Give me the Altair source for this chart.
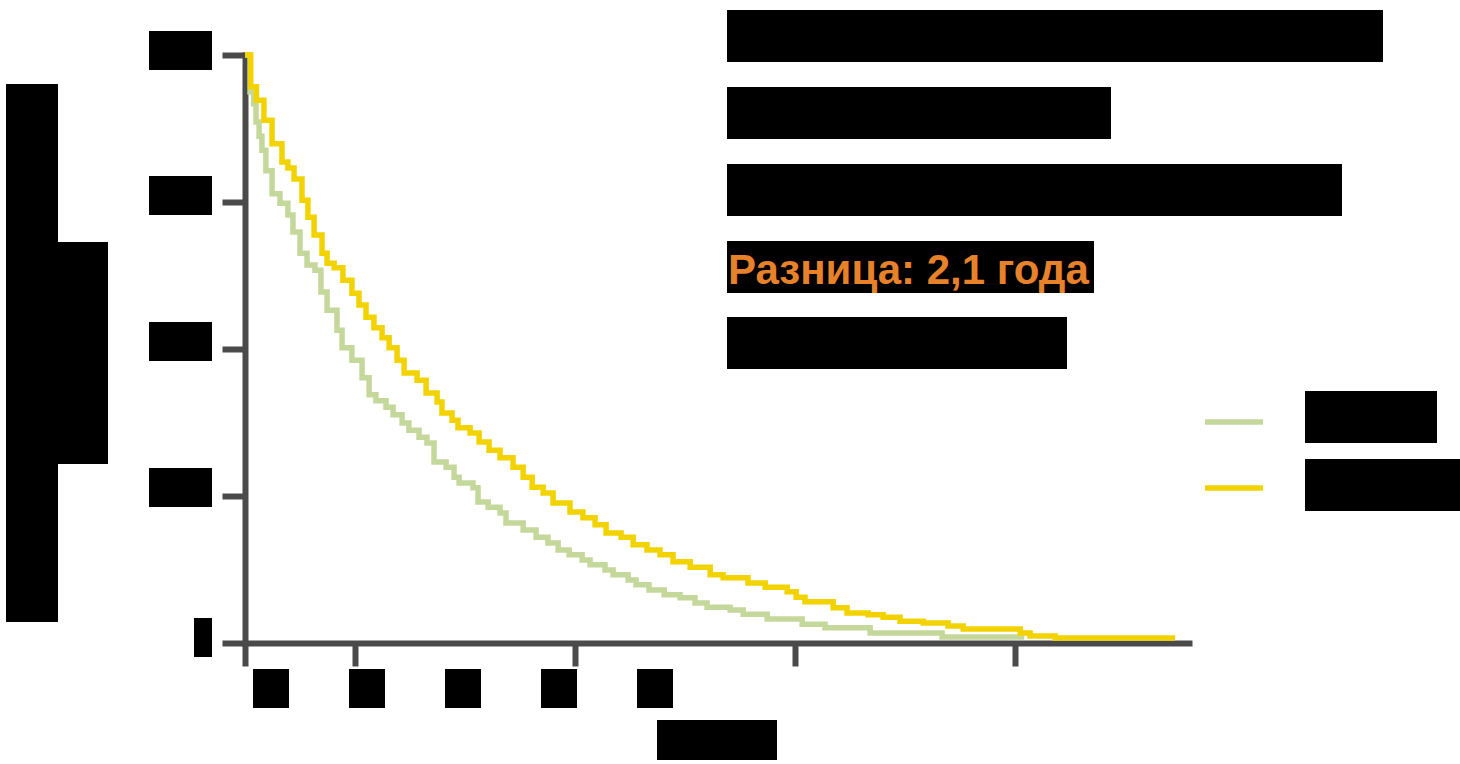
import altair as alt
import pandas as pd

# ---- data (time units, % surviving) ----
green_t = [0, 0.23, 0.39, 0.5, 0.64, 0.77, 0.95, 1.23, 1.59, 1.95, 2.18, 2.5, 2.82, 3.18, 3.45,
           3.73, 4.18, 4.41, 4.86, 5.32, 5.64, 5.95, 6.41, 6.73, 7.14, 7.45, 7.91, 8.27, 8.59, 9.14,
           9.5, 9.73, 10.36, 10.59, 11.05, 11.59, 11.86, 12.64, 13.23, 13.77, 14.23, 14.73, 15.32, 15.68,
           16.36, 16.73, 17.41, 17.77, 18.36, 19.05, 19.77, 20.45, 21.0, 22.05, 22.64, 23.73, 25.32,
           26.36, 28.41, 31.68, 35.41]
green_s = [100, 93.7, 91.7, 88.6, 86.2, 83.8, 80.3, 76.4, 74.8, 72.8, 69.9, 66.3, 64.3, 63.4, 59.7,
           56.6, 53.2, 50.2, 48.1, 45.1, 42.2, 41.2, 40.1, 38.8, 37.4, 36.2, 35.0, 34.0, 30.8, 29.9,
           28.2, 27.2, 26.4, 24.0, 23.1, 22.1, 20.4, 19.2, 18.0, 17.0, 15.8, 15.0, 14.1, 13.3,
           12.4, 11.6, 10.7, 9.9, 9.0, 8.2, 7.7, 6.8, 6.1, 5.6, 4.9, 4.1, 3.2,
           2.6, 1.7, 1.0, 1.0]

yellow_t = [0, 0.26, 0.52, 0.86, 1.23, 1.68, 1.95, 2.23, 2.59, 2.86, 3.14, 3.5, 3.73, 4.05, 4.45,
            4.86, 5.18, 5.5, 5.86, 6.23, 6.55, 6.91, 7.23, 7.82, 8.23, 8.73, 8.95, 9.41, 9.68, 10.23,
            10.64, 11.09, 11.59, 12.18, 12.64, 13.05, 13.55, 14.0, 14.77, 15.36, 15.91, 16.41, 17.09,
            17.64, 18.27, 18.86, 19.45, 20.23, 21.14, 21.73, 22.86, 23.64, 24.64, 25.05, 25.45, 26.73,
            27.36, 28.32, 29.0, 29.77, 30.82, 31.95, 32.64, 35.23, 35.68, 36.82, 42.27]
yellow_s = [100, 94.6, 92.3, 88.9, 84.9, 81.8, 80.8, 78.9, 75.3, 72.4, 69.4, 66.3, 64.6, 63.8, 61.7,
            59.5, 57.5, 55.4, 53.6, 51.9, 50.2, 48.1, 45.9, 44.7, 42.5, 41.0, 39.1, 37.9, 36.6, 35.7,
            34.2, 32.8, 31.5, 29.9, 28.2, 26.5, 25.5, 23.8, 22.3, 21.3, 20.1, 18.7, 18.0,
            16.7, 15.8, 15.0, 13.8, 12.9, 11.6, 11.1, 10.2, 9.5, 8.7, 7.8, 7.0, 6.0,
            5.1, 4.8, 4.4, 3.7, 3.4, 2.9, 2.4, 1.7, 1.2, 0.85, 0.85]

x_ticks = [0, 5, 15, 25, 35]
y_ticks = [0, 25, 50, 75, 100]
x_domain = [0, 42.9]
annotation = "Разница: 2,1 года"

# ---- styles ----
AX = "#4a4a4a"
GREEN = "#c5d89b"
YELLOW = "#f2d300"
ORANGE = "#e8822a"
W, H = 944, 588

green_df = pd.DataFrame({"t": green_t, "s": green_s})
yellow_df = pd.DataFrame({"t": yellow_t, "s": yellow_s})
one = pd.DataFrame({"k": [0]})

x_enc = alt.X("t:Q", scale=alt.Scale(domain=x_domain, nice=False, zero=False),
              axis=alt.Axis(values=x_ticks, labels=False, title=None, grid=False,
                            domainColor=AX, domainWidth=6, domainCap="square",
                            tickColor=AX, tickWidth=6, tickSize=23))
y_enc = alt.Y("s:Q", scale=alt.Scale(domain=[0, 100], nice=False),
              axis=alt.Axis(values=y_ticks, labels=False, title=None, grid=False,
                            domainColor=AX, domainWidth=6, domainCap="square",
                            tickColor=AX, tickWidth=6, tickSize=23))

green_line = alt.Chart(green_df).mark_line(interpolate="step-after", strokeWidth=5.5,
                                           color=GREEN).encode(x=x_enc, y=y_enc)
yellow_line = alt.Chart(yellow_df).mark_line(interpolate="step-after", strokeWidth=5.5,
                                             color=YELLOW).encode(x="t:Q", y="s:Q")

# redaction boxes (pixel layout relative to plot origin), black as in the reference
redactions = [
    (482, 1138, -45, 7), (482, 866, 32, 84), (482, 1097, 109, 161),
    (482, 849, 186, 238), (482, 822, 262, 314),
    (1060, 1192, 336, 388), (1060, 1215, 404, 456),
    (-239, -187, 29, 567), (-187, -137, 187, 409),
    (-96, -33, -24, 15), (-96, -33, 121, 160), (-96, -33, 267, 306), (-96, -33, 413, 452),
    (-51, -33, 563, 602),
    (8, 44, 614, 653), (104, 140, 614, 653), (200, 236, 614, 653), (296, 332, 614, 653),
    (392, 428, 614, 653), (412, 532, 665, 705),
]
boxes = [
    alt.Chart(one).mark_rect(color="black").encode(
        x=alt.value(a), x2=alt.value(b), y=alt.value(c), y2=alt.value(d))
    for a, b, c, d in redactions
]

legend_green = alt.Chart(one).mark_rule(color=GREEN, strokeWidth=5.5).encode(
    x=alt.value(960), x2=alt.value(1018), y=alt.value(367))
legend_yellow = alt.Chart(one).mark_rule(color=YELLOW, strokeWidth=5.5).encode(
    x=alt.value(960), x2=alt.value(1018), y=alt.value(433))

label = alt.Chart(one).mark_text(text=annotation, font="Liberation Sans", fontSize=42,
                                 fontWeight="bold", color=ORANGE, align="left",
                                 baseline="alphabetic").encode(x=alt.value(483), y=alt.value(229))

chart = alt.layer(green_line, yellow_line, *boxes, legend_green, legend_yellow, label).properties(
    width=W, height=H,
    padding={"left": 245, "top": 55, "right": 271, "bottom": 121},
    autosize=alt.AutoSizeParams(type="none"),
    background="white",
).configure_view(stroke=None)

chart.save("out.html", embed_options={"renderer": "svg", "actions": False})
